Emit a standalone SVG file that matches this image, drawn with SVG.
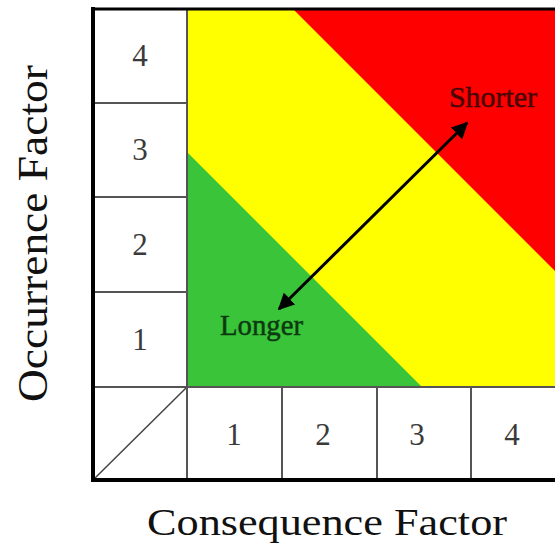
<svg xmlns="http://www.w3.org/2000/svg" width="555" height="548" viewBox="0 0 555 548">
  <style>
    .cell { fill: #ffffff; stroke: #555555; stroke-width: 2; }
    .num { font-family: "Liberation Serif", "Times New Roman", serif; font-size: 31px; fill: #3a3a3a; text-anchor: middle; }
    .axis { font-family: "Liberation Serif", "Times New Roman", serif; fill: #111111; }
    .zone { font-family: "Liberation Serif", "Times New Roman", serif; font-size: 29px; stroke-width: 0.5; }
    .frame { stroke: #000000; fill: none; stroke-linecap: square; }
  </style>
  <defs>
    <marker id="head" viewBox="0 0 10 10" refX="9" refY="5" markerWidth="5.5" markerHeight="5.5" orient="auto-start-reverse" markerUnits="strokeWidth">
      <path d="M0,0 L10,5 L0,10 z" fill="#000000"/>
    </marker>
  </defs>
  <rect width="555" height="548" fill="#ffffff"/>

  <g id="risk-zones">
    <rect x="187" y="9" width="368" height="378" fill="#ffff00"/>
    <polygon points="293,9 555,9 555,271" fill="#ff0000"/>
    <polygon points="187,152 187,387 422,387" fill="#3ac43a"/>
    <line x1="187" y1="387" x2="555" y2="387" stroke="#6a6a3a" stroke-width="1.5"/>
    <line x1="187" y1="9" x2="187" y2="387" stroke="#8a8a50" stroke-width="1.5"/>
  </g>

  <g id="occurrence-4"><rect class="cell" x="93" y="9" width="94" height="94"/><text class="num" x="140" y="66">4</text></g>
  <g id="occurrence-3"><rect class="cell" x="93" y="103" width="94" height="94"/><text class="num" x="140" y="160">3</text></g>
  <g id="occurrence-2"><rect class="cell" x="93" y="197" width="94" height="95"/><text class="num" x="140" y="255">2</text></g>
  <g id="occurrence-1"><rect class="cell" x="93" y="292" width="94" height="95"/><text class="num" x="140" y="350">1</text></g>

  <g id="corner"><rect class="cell" x="93" y="387" width="94" height="93"/><line x1="93" y1="480" x2="187" y2="387" stroke="#444444" stroke-width="1.5"/></g>

  <g id="consequence-1"><rect class="cell" x="187" y="387" width="95" height="93"/><text class="num" x="234" y="445">1</text></g>
  <g id="consequence-2"><rect class="cell" x="282" y="387" width="95" height="93"/><text class="num" x="323" y="445">2</text></g>
  <g id="consequence-3"><rect class="cell" x="377" y="387" width="94" height="93"/><text class="num" x="417" y="445">3</text></g>
  <g id="consequence-4"><rect class="cell" x="471" y="387" width="90" height="93"/><text class="num" x="512" y="445">4</text></g>

  <g id="frame">
    <line class="frame" x1="93" y1="9" x2="555" y2="9" stroke-width="3"/>
    <line class="frame" x1="93" y1="9" x2="93" y2="480" stroke-width="4"/>
    <line class="frame" x1="93" y1="480" x2="555" y2="480" stroke-width="4"/>
  </g>

  <g id="connectors">
    <line x1="279" y1="309" x2="467" y2="123" stroke="#000000" stroke-width="3" marker-start="url(#head)" marker-end="url(#head)"/>
  </g>

  <g id="label-shorter"><text class="zone" x="449" y="107" fill="#4a0505" stroke="#4a0505" textLength="88" lengthAdjust="spacingAndGlyphs">Shorter</text></g>
  <g id="label-longer"><text class="zone" x="220" y="335" fill="#0c3a10" stroke="#0c3a10" textLength="83" lengthAdjust="spacingAndGlyphs">Longer</text></g>

  <g id="axis-x"><text class="axis" x="147" y="535" font-size="37" textLength="360" lengthAdjust="spacingAndGlyphs">Consequence Factor</text></g>
  <g id="axis-y"><text class="axis" transform="translate(47,402) rotate(-90)" x="0" y="0" font-size="43" textLength="337" lengthAdjust="spacingAndGlyphs">Occurrence Factor</text></g>
</svg>
